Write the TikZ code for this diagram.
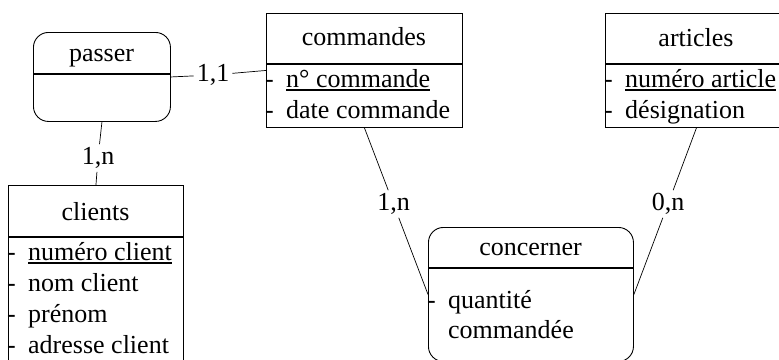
\documentclass[tikz,border=0pt]{standalone}
\usepackage{fontspec}
\setmainfont{Liberation Serif}
\begin{document}
\begin{tikzpicture}[x=1pt,y=-1pt,
  font=\fontsize{26}{31}\selectfont,
  box/.style={draw, line width=0.9pt, inner sep=0pt, anchor=north west},
  relbox/.style={box, rounded corners=15pt},
  sepline/.style={line width=1.3pt},
  title/.style={anchor=base, inner sep=0pt},
  attr/.style={anchor=base west, inner sep=0pt},
  hyph/.style={anchor=base west, inner sep=0pt},
  uline/.style={line width=1.2pt},
  card/.style={inner sep=3pt},
  link/.style={line width=0.7pt}]
\useasboundingbox (0,0) rectangle (779,359);
\clip (0,0) rectangle (779,359);

% boxes
\node[relbox, minimum width=137pt, minimum height=89pt] (passer) at (33,32) {};
\node[box, minimum width=196pt, minimum height=114pt] (commandes) at (266,13) {};
\node[box, minimum width=182pt, minimum height=114pt] (articles) at (605,13) {};
\node[box, minimum width=175pt, minimum height=185pt] (clients) at (8,185) {};
\node[relbox, minimum width=205pt, minimum height=134pt] (concerner) at (428,227) {};

% dividers
\draw[sepline] (33,74) -- (170,74);
\draw[sepline] (266,64) -- (462,64);
\draw[sepline] (605,64) -- (787,64);
\draw[sepline] (8,237) -- (183,237);
\draw[sepline] (428,268) -- (633,268);

% titles
\node[title] (tpasser) at (101.5,61) {passer};
\node[title] (tcommandes) at (364,45.5) {commandes};
\node[title] (tarticles) at (696,46) {articles};
\node[title] (tclients) at (95.5,220) {clients};
\node[title] (tconcerner) at (530.5,255) {concerner};

% commandes attributes
\node[hyph] (hc1) at (265,87) {-};
\node[hyph] (hc2) at (265,118) {-};
\node[attr] (nc) at (286,87) {n° commande};
\node[attr] (dc) at (286,118) {date commande};
\draw[uline] ([yshift=-3pt]nc.base west) -- ([yshift=-3pt]nc.base east);

% articles attributes
\node[hyph] (ha1) at (604,87) {-};
\node[hyph] (ha2) at (604,118) {-};
\node[attr] (na) at (625,87) {numéro article};
\node[attr] (da) at (625,118) {désignation};
\draw[uline] ([yshift=-3pt]na.base west) -- ([yshift=-3pt]na.base east);

% clients attributes
\node[hyph] (hl1) at (7,260) {-};
\node[hyph] (hl2) at (7,291) {-};
\node[hyph] (hl3) at (7,322) {-};
\node[hyph] (hl4) at (7,353) {-};
\node[attr] (ncl) at (28,260) {numéro client};
\node[attr] (nom) at (28,291) {nom client};
\node[attr] (pre) at (28,322) {prénom};
\node[attr] (adr) at (28,353) {adresse client};
\draw[uline] ([yshift=-3pt]ncl.base west) -- ([yshift=-3pt]ncl.base east);

% concerner attributes
\node[hyph] (hq) at (427,308) {-};
\node[attr] (qt) at (448,308) {quantité};
\node[attr] (qc) at (448,338) {commandée};

% cardinality labels
\node[card] (c1) at (213,75) {1,1};
\node[card] (c2) at (98,158) {1,n};
\node[card] (c3) at (393.5,204) {1,n};
\node[card] (c4) at (668,204) {0,n};

% connectors
\draw[link] (passer.east) -- (c1) -- (commandes.west);
\draw[link] (passer.south) -- (c2) -- (clients.north);
\draw[link] (commandes.south) -- (c3) -- (concerner.west);
\draw[link] (articles.south) -- (c4) -- (concerner.east);
\end{tikzpicture}
\end{document}
